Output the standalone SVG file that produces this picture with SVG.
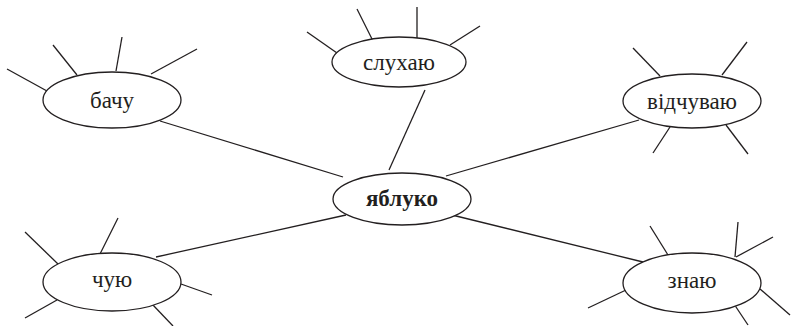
<svg xmlns="http://www.w3.org/2000/svg" width="791" height="326" viewBox="0 0 791 326">
<style>
.e{fill:#fff;stroke:#231f20;stroke-width:1.3}
.r{stroke:#231f20;stroke-width:1.3;fill:none}
.t{font-family:"Liberation Serif","Times New Roman","DejaVu Serif",serif;font-size:23px;fill:#231f20;text-anchor:middle}
.b{font-weight:bold}
</style>
<rect width="791" height="326" fill="#fff"/>
<g id="connectors" class="r">
<line x1="160" y1="121" x2="343" y2="177"/>
<line x1="425" y1="90" x2="389" y2="170"/>
<line x1="639" y1="120" x2="446" y2="176"/>
<line x1="156" y1="257" x2="346" y2="215"/>
<line x1="643" y1="262" x2="452" y2="215"/>
</g>
<g id="bachu">
<g class="r">
<line x1="7" y1="69" x2="47" y2="91"/>
<line x1="53" y1="45" x2="77" y2="75"/>
<line x1="122" y1="37" x2="116" y2="71"/>
<line x1="197" y1="49" x2="151" y2="74"/>
</g>
<ellipse class="e" cx="112" cy="100" rx="69" ry="28"/>
<text class="t" x="112" y="108">бачу</text>
</g>
<g id="sluhayu">
<g class="r">
<line x1="307" y1="32" x2="337" y2="53"/>
<line x1="357" y1="9" x2="373" y2="41"/>
<line x1="417" y1="7" x2="417" y2="38"/>
<line x1="480" y1="26" x2="450" y2="45"/>
</g>
<ellipse class="e" cx="399" cy="62" rx="67" ry="25"/>
<text class="t" x="399" y="70">слухаю</text>
</g>
<g id="vidchuvayu">
<g class="r">
<line x1="633" y1="48" x2="660" y2="76"/>
<line x1="747" y1="42" x2="722" y2="75"/>
<line x1="653" y1="153" x2="670" y2="127"/>
<line x1="748" y1="154" x2="726" y2="125"/>
</g>
<ellipse class="e" cx="692" cy="101" rx="69" ry="27"/>
<text class="t" x="692" y="109">відчуваю</text>
</g>
<g id="chuyu">
<g class="r">
<line x1="25" y1="232" x2="58" y2="264"/>
<line x1="118" y1="218" x2="100" y2="254"/>
<line x1="181" y1="284" x2="212" y2="295"/>
<line x1="25" y1="318" x2="57" y2="300"/>
<line x1="152" y1="304" x2="173" y2="326"/>
</g>
<ellipse class="e" cx="112" cy="282" rx="69" ry="29"/>
<text class="t" x="112" y="287">чую</text>
</g>
<g id="znayu">
<g class="r">
<line x1="650" y1="226" x2="668" y2="255"/>
<line x1="738" y1="222" x2="735" y2="257"/>
<line x1="773" y1="237" x2="736" y2="257"/>
<line x1="760" y1="289" x2="790" y2="315"/>
<line x1="588" y1="308" x2="626" y2="290"/>
<line x1="734" y1="304" x2="748" y2="325"/>
</g>
<ellipse class="e" cx="692" cy="283" rx="69" ry="30"/>
<text class="t" x="692" y="288">знаю</text>
</g>
<g id="yabluko">
<ellipse class="e" cx="402" cy="199" rx="69" ry="26"/>
<text class="t b" x="402" y="206">яблуко</text>
</g>
</svg>
